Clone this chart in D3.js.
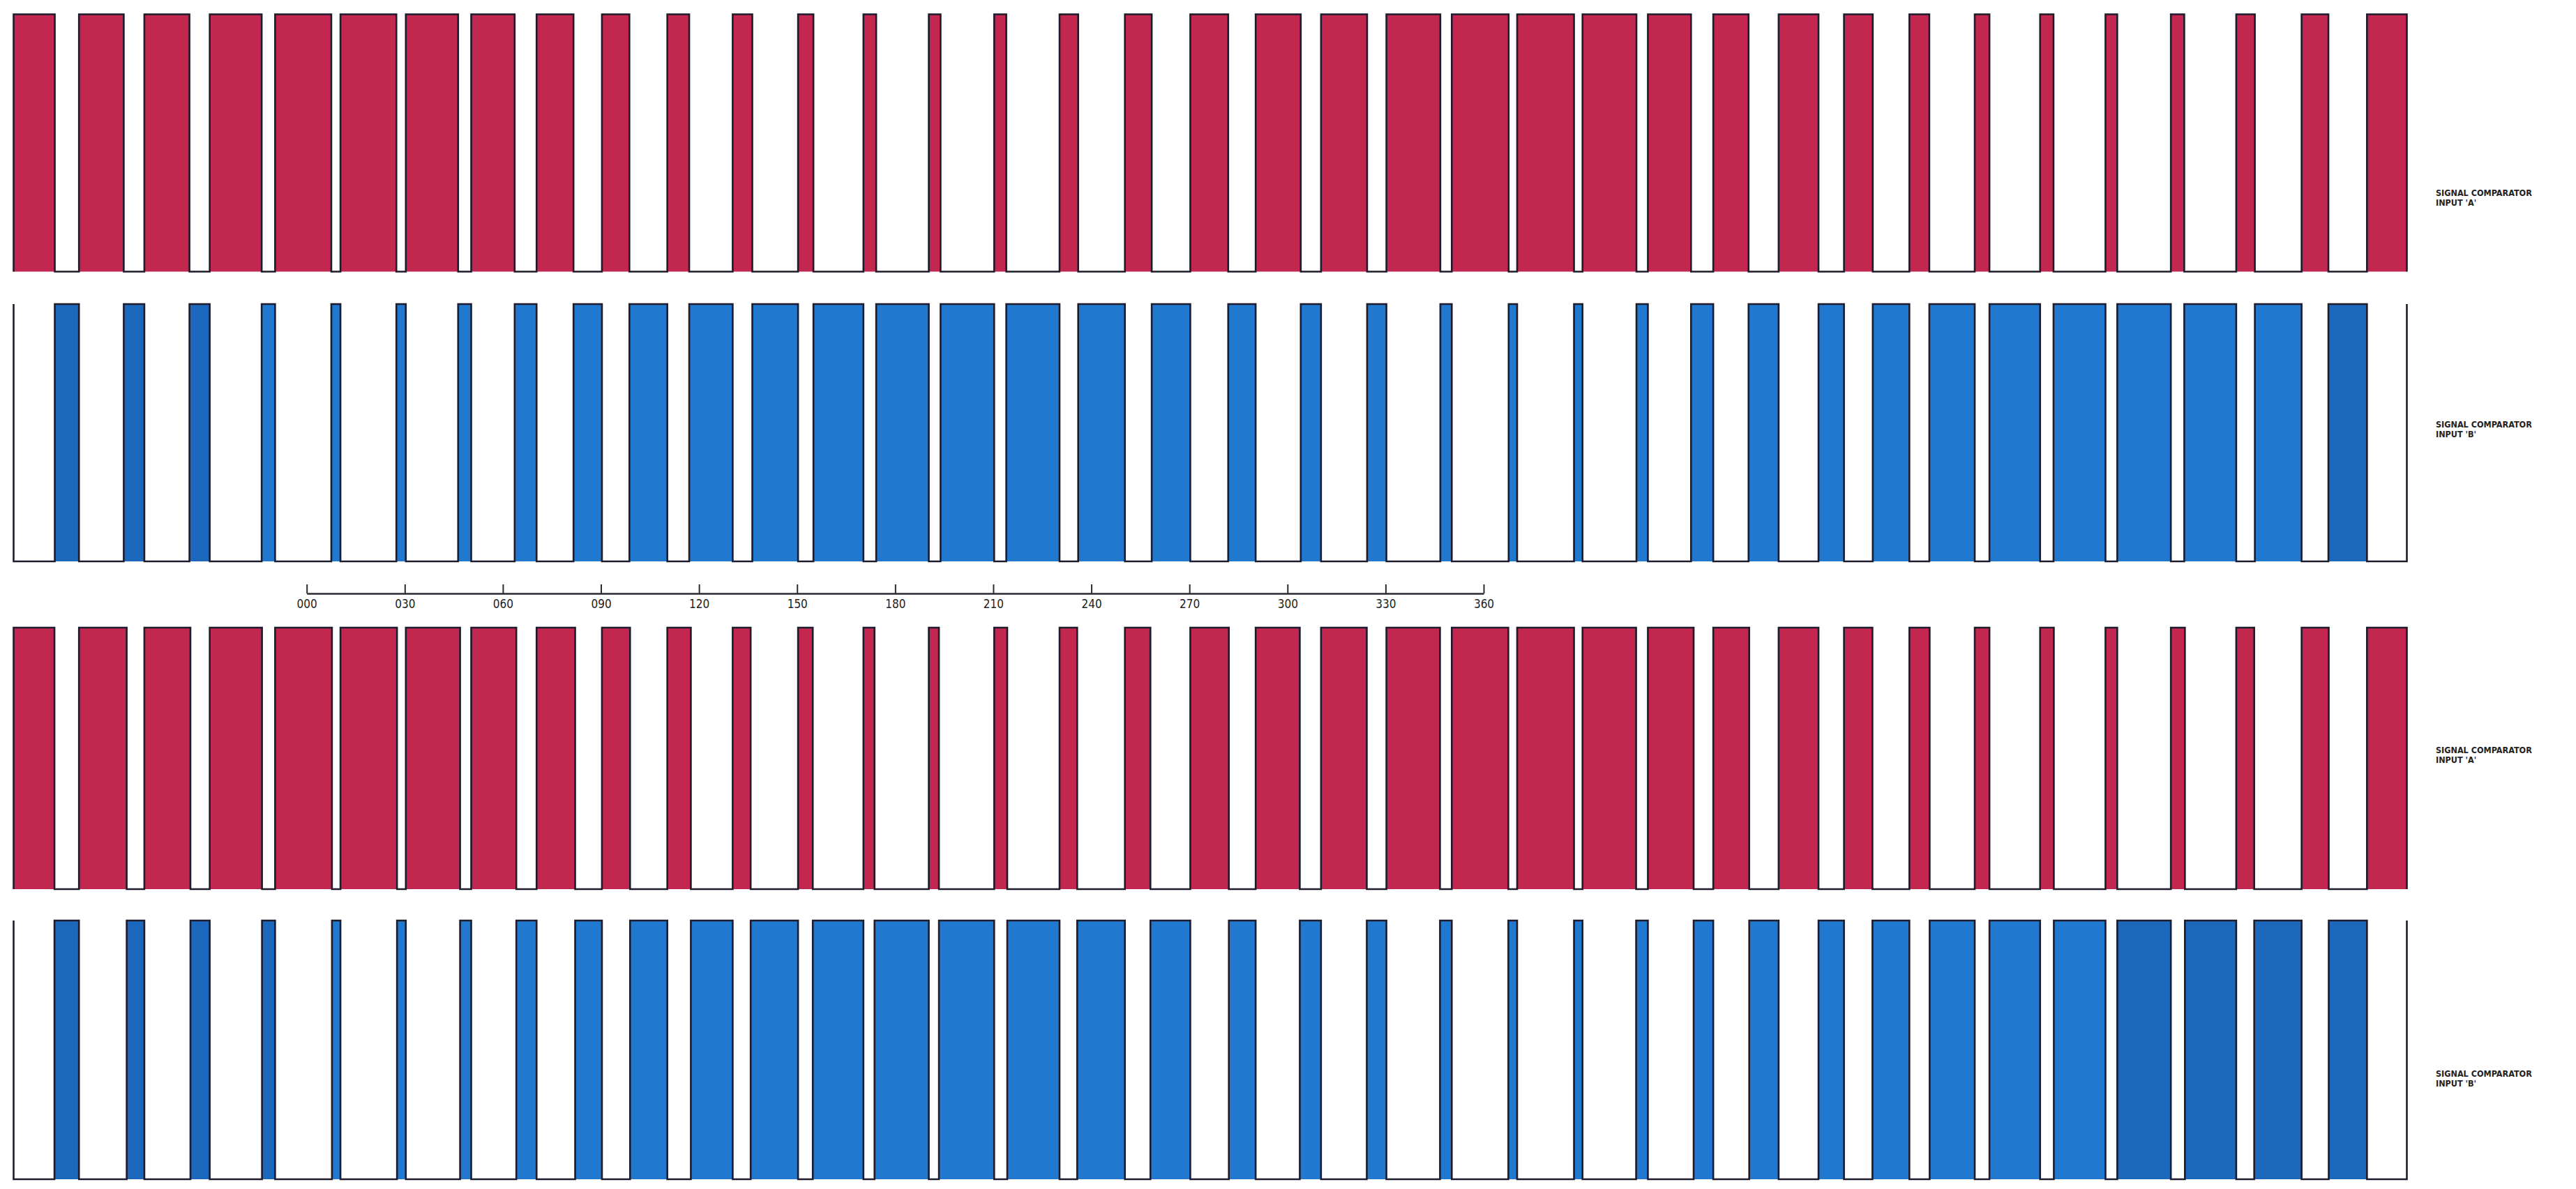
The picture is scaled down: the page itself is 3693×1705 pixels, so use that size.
<!DOCTYPE html>
<html>
<head>
<meta charset="utf-8">
<script src="https://cdn.jsdelivr.net/npm/d3@7"></script>
<style>
  html, body { margin: 0; padding: 0; background: #ffffff; }
  svg { display: block; }
</style>
</head>
<body>
<svg id="chart" width="3693" height="1705"></svg>
<script>
// ---- DATA ----
// start angle (degrees) of each pulse cell along the trace (two revolutions)
const cellAngles = [0, 20, 40, 60, 80, 100, 120, 140, 160, 180, 200, 220, 240, 260, 280, 300, 320, 340,
                    360, 380, 400, 420, 440, 460, 480, 500, 520, 540, 560, 580, 600, 620, 640, 660, 680, 700, 720];
const traceEnd = 732.2; // degrees where the trace stops

// width (degrees) of the input 'A' pulse in each cell, upper pair
const pulseA1 = [12.6, 13.7, 13.8, 15.9, 17.2, 17.1, 16.0, 13.3, 11.3, 8.4, 6.7, 6.0, 4.7, 3.9, 3.6, 3.7, 5.7, 8.2,
                 11.6, 13.8, 14.1, 16.5, 17.4, 17.4, 16.5, 13.2, 10.8, 12.2, 8.8, 6.1, 4.5, 4.1, 3.6, 4.1, 5.7, 8.2, 12.2];
// width (degrees) of the input 'A' pulse in each cell, lower pair
const pulseA2 = [12.5, 14.6, 14.1, 16.0, 17.4, 17.3, 16.6, 13.8, 11.8, 8.6, 7.2, 5.5, 4.5, 3.4, 3.1, 4.0, 5.4, 7.8,
                 11.8, 13.5, 14.0, 16.4, 17.3, 17.4, 16.4, 14.0, 11.0, 12.2, 8.7, 6.2, 4.5, 4.2, 3.6, 4.3, 5.5, 8.3, 12.2];

const axisTicks = [0, 30, 60, 90, 120, 150, 180, 210, 240, 270, 300, 330, 360];
const labelLine1 = "SIGNAL COMPARATOR";
const labelA = "INPUT 'A'";
const labelB = "INPUT 'B'";

// ---- DRAW ----
const svg = d3.select("#chart");
svg.append("rect").attr("width", 3693).attr("height", 1705).attr("fill", "#ffffff");

const x = d3.scaleLinear().domain([0, traceEnd]).range([19.5, 3450.5]);

const RED = "#c2284f", BLUE = "#2178cf", BLUE_DARK = "#1c68bd", INK = "#1d1b2c";

const rows = [
  { pulses: pulseA1, kind: "A", top: 20.5, bottom: 389.5, label: labelA, ly: 281,  dark: [] },
  { pulses: pulseA1, kind: "B", top: 436,  bottom: 805,   label: labelB, ly: 613,  dark: [0, 1, 2, 35] },
  { pulses: pulseA2, kind: "A", top: 900,  bottom: 1275,  label: labelA, ly: 1080, dark: [] },
  { pulses: pulseA2, kind: "B", top: 1320, bottom: 1691,  label: labelB, ly: 1544, dark: [0, 1, 2, 3, 32, 33, 34, 35] }
];

const line = d3.line();

rows.forEach(r => {
  const y = d3.scaleLinear().domain([0, 1]).range([r.bottom, r.top]);
  const aPulses = cellAngles.map((a, i) => [a, Math.min(a + r.pulses[i], traceEnd)]);
  const g = svg.append("g");
  let segs, pts = [];
  if (r.kind === "A") {
    segs = aPulses;
    aPulses.forEach(([s, e]) => {
      pts.push([x(s), y(0)], [x(s), y(1)], [x(e), y(1)], [x(e), y(0)]);
    });
  } else {
    segs = [];
    for (let i = 0; i < aPulses.length - 1; i++) segs.push([aPulses[i][1], aPulses[i + 1][0]]);
    pts.push([x(0), y(1)], [x(0), y(0)]);
    segs.forEach(([s, e]) => {
      pts.push([x(s), y(0)], [x(s), y(1)], [x(e), y(1)], [x(e), y(0)]);
    });
    pts.push([x(traceEnd), y(0)], [x(traceEnd), y(1)]);
  }
  g.selectAll("rect.p").data(segs).join("rect")
    .attr("class", "p")
    .attr("x", d => x(d[0]))
    .attr("width", d => Math.max(0, x(d[1]) - x(d[0])))
    .attr("y", y(1))
    .attr("height", y(0) - y(1))
    .attr("fill", (d, i) => r.kind === "A" ? RED : (r.dark.includes(i) ? BLUE_DARK : BLUE));
  g.append("path")
    .attr("d", line(pts))
    .attr("fill", "none")
    .attr("stroke", INK)
    .attr("stroke-width", 2.6)
    .attr("stroke-linejoin", "miter");

  const t = svg.append("text")
    .attr("x", 3492).attr("y", r.ly)
    .attr("font-family", "'DejaVu Sans Condensed', 'Liberation Sans Narrow', sans-serif")
    .attr("font-weight", "bold")
    .attr("font-size", 12.5)
    .attr("fill", "#222");
  t.append("tspan").attr("x", 3492).attr("dy", 0).text(labelLine1);
  t.append("tspan").attr("x", 3492).attr("dy", 14).text(r.label);
});

// ---- scale bar ----
const xa = d3.scaleLinear().domain([0, 360]).range([439.7, 2127]);
const axis = d3.axisBottom(xa)
  .tickValues(axisTicks)
  .tickFormat(d3.format("03d"))
  .tickSizeInner(-13)
  .tickSizeOuter(0)
  .tickPadding(9);
const ag = svg.append("g").attr("transform", "translate(0,851)").call(axis);
ag.select(".domain").attr("stroke", "#2a2a33").attr("stroke-width", 2.6);
ag.selectAll(".tick line").attr("stroke", "#2a2a33").attr("stroke-width", 2);
ag.selectAll(".tick text")
  .attr("font-family", "'Liberation Sans Narrow', 'DejaVu Sans Condensed', sans-serif")
  .attr("font-size", 17)
  .attr("fill", "#222");
</script>
</body>
</html>
